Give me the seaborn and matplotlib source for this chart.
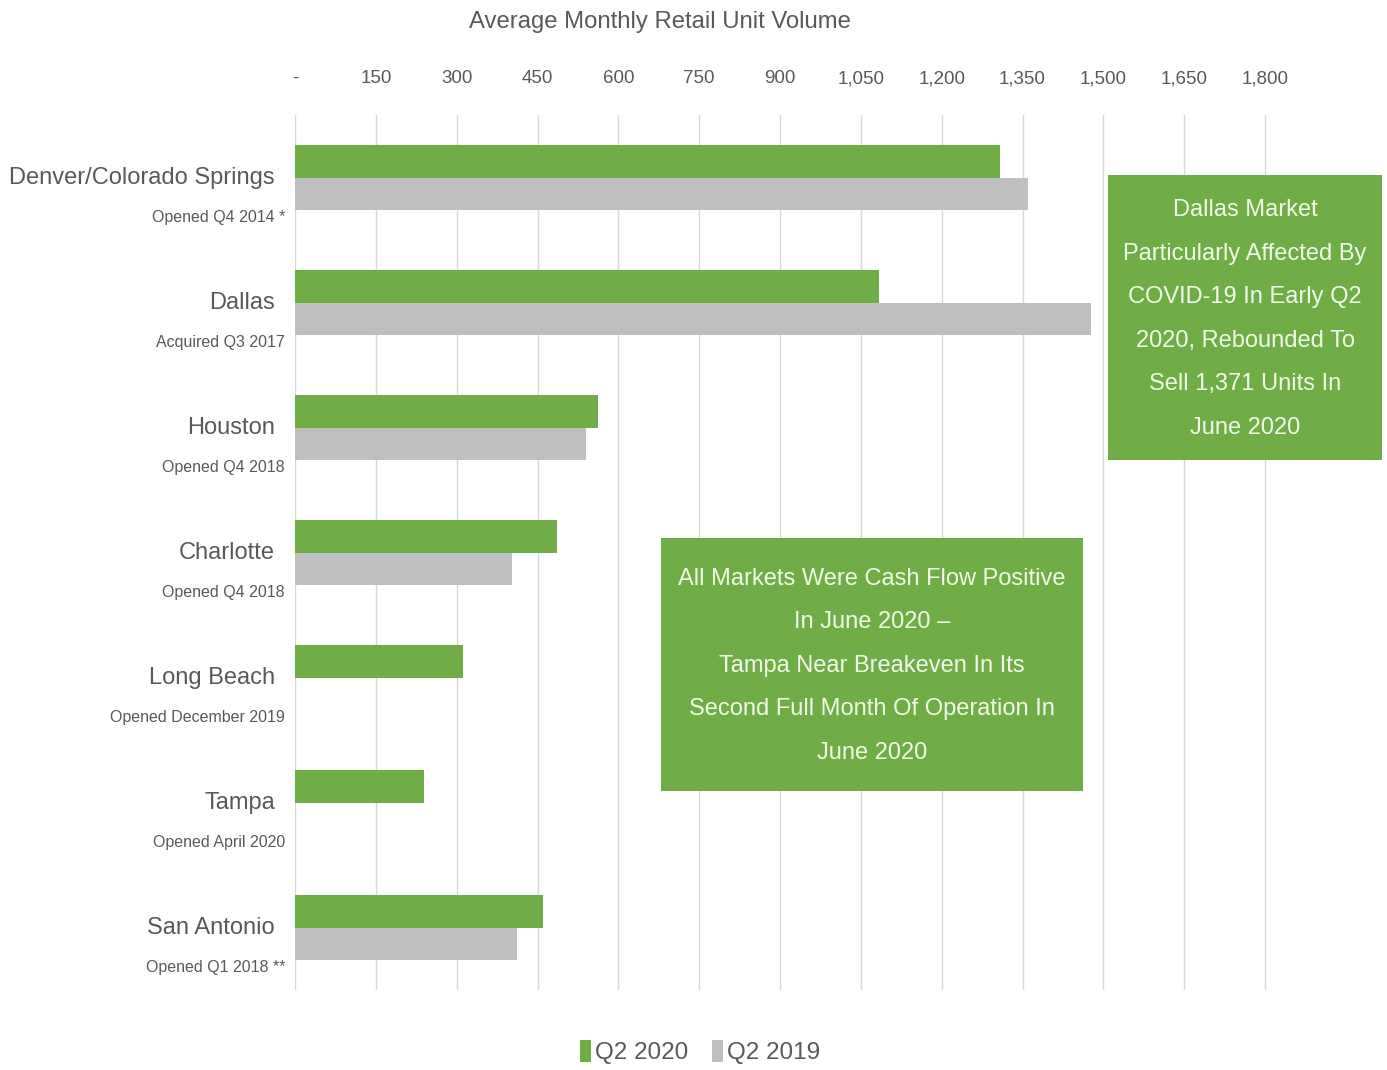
import numpy as np
import pandas as pd
import matplotlib
matplotlib.use("Agg")
import matplotlib.pyplot as plt
import seaborn as sns
from matplotlib.patches import Rectangle
from matplotlib.ticker import FuncFormatter
import matplotlib.transforms as mtransforms

# ---- data ----
markets = ["Denver/Colorado Springs", "Dallas", "Houston", "Charlotte",
           "Long Beach", "Tampa", "San Antonio"]
notes = ["Opened Q4 2014 *", "Acquired Q3 2017", "Opened Q4 2018", "Opened Q4 2018",
         "Opened December 2019", "Opened April 2020", "Opened Q1 2018 **"]
q2_2020 = [1308, 1084, 562, 486, 312, 239, 460]
q2_2019 = [1360, 1477, 540, 403, np.nan, np.nan, 412]
periods = ["Q2 2020", "Q2 2019"]
x_ticks = list(range(0, 1801, 150))

box_dallas = ["Dallas Market", "Particularly Affected By", "COVID-19 In Early Q2",
              "2020, Rebounded To", "Sell 1,371 Units In", "June 2020"]
box_all = ["All Markets Were Cash Flow Positive", "In June 2020 \u2013",
           "Tampa Near Breakeven In Its", "Second Full Month Of Operation In",
           "June 2020"]

GREEN = "#70AD47"
GREY = "#BFBFBF"
TXT = "#595959"
BOX_TXT = "#F3F8EA"

df = pd.DataFrame({
    "market": markets * 2,
    "period": [periods[0]] * len(markets) + [periods[1]] * len(markets),
    "units": q2_2020 + q2_2019,
}).dropna()

sns.set_theme(style="white")
# no narrow font available -> regular Liberation Sans, sizes scaled down to keep widths
plt.rcParams["font.family"] = ["Liberation Sans", "DejaVu Sans"]
BIG = 17
SMALL = 11.5

W, H = 1387, 1070
XMAX = 1805
fig = plt.figure(figsize=(W / 100, H / 100), dpi=100)
ax = fig.add_axes([295 / W, 1 - 990 / H, 970 / W * XMAX / 1800, 875 / H])

sns.barplot(data=df, y="market", x="units", hue="period", order=markets,
            hue_order=periods, palette=[GREEN, GREY], width=0.52, orient="h",
            errorbar=None, saturation=1, linewidth=0, ax=ax)

ax.set_xlim(0, XMAX)
ax.set_ylim(len(markets) - 0.5, -0.5)
ax.set_xticks(x_ticks)
ax.xaxis.set_major_formatter(FuncFormatter(lambda v, p: "-" if v == 0 else f"{v:,.0f}"))
ax.xaxis.tick_top()
ax.tick_params(axis="x", length=0, pad=20, labelsize=13.5, labelcolor=TXT)
ax.set_yticks(range(len(markets)))
ax.set_yticklabels([])
ax.tick_params(axis="y", length=0)
ax.set_xlabel("")
ax.set_ylabel("")
ax.grid(axis="x", color="#D9D9D9", lw=1)
ax.set_axisbelow(True)
for s in ax.spines.values():
    s.set_visible(False)

# category labels: market name + small note underneath
trans = mtransforms.blended_transform_factory(fig.transFigure, ax.transData)
for i, (m, n) in enumerate(zip(markets, notes)):
    ax.text(275 / W, i, m, transform=trans, ha="right", va="center",
            fontsize=BIG, color=TXT)
    ax.text(285 / W, i + 0.32, n, transform=trans, ha="right", va="center",
            fontsize=SMALL, color=TXT)

fig.text(660 / W, 1 - 22 / H, "Average Monthly Retail Unit Volume",
         ha="center", va="center", fontsize=17.2, color=TXT)

# legend
handles, labels = ax.get_legend_handles_labels()
ax.get_legend().remove()
fig.legend(handles, labels, loc="center", bbox_to_anchor=(700 / W, 1 - 1052 / H),
           ncol=2, frameon=False, fontsize=BIG + 0.5, handlelength=0.45, handleheight=1.0,
           handletextpad=0.15, columnspacing=1.0, labelcolor=TXT)

# call-out boxes
def callout(x0, y0, x1, y1, lines, first, step):
    fig.patches.append(Rectangle((x0 / W, 1 - y1 / H), (x1 - x0) / W, (y1 - y0) / H,
                                 transform=fig.transFigure, facecolor=GREEN,
                                 edgecolor="none", zorder=2))
    cx = (x0 + x1) / 2
    for k, line in enumerate(lines):
        fig.text(cx / W, 1 - (first + k * step) / H, line, ha="center", va="center",
                 fontsize=BIG, color=BOX_TXT, zorder=3)

callout(1108, 175, 1382, 460, box_dallas, 210, 43.6)
callout(661, 538, 1083, 791, box_all, 579, 43.5)

fig.savefig("out.png", dpi=100)
